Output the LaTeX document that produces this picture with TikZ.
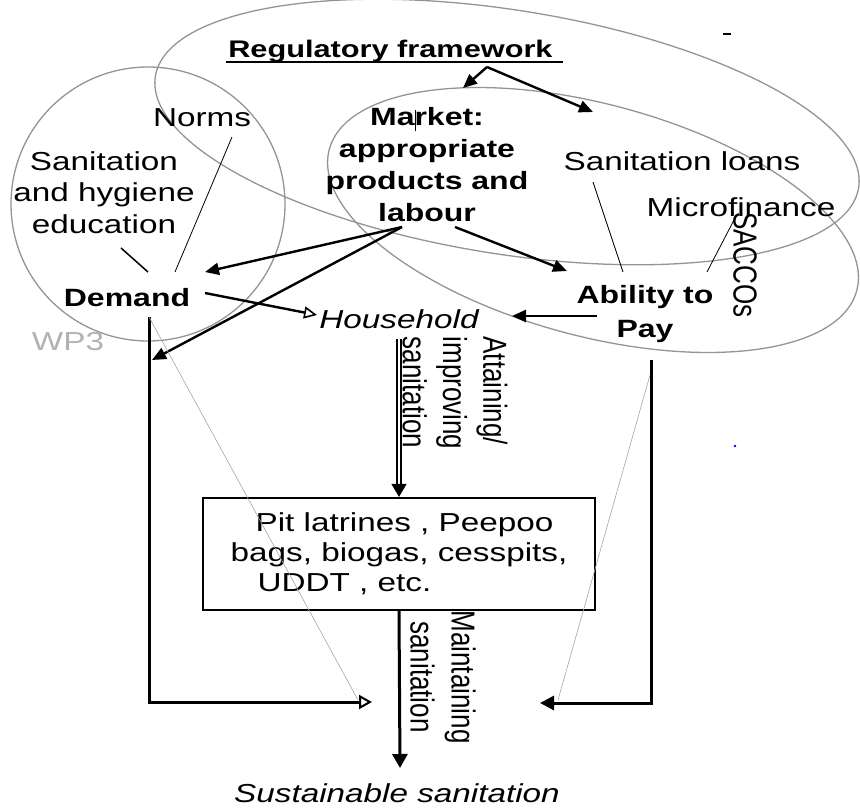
\documentclass[tikz,border=0pt]{standalone}
\usepackage{fontspec}
\setmainfont{Liberation Sans}
\usetikzlibrary{arrows.meta}
\tikzset{
  txt/.style={inner sep=0pt, xscale=1.28, font=\fontsize{26}{31.5}\selectfont},
  bld/.style={txt, font=\fontsize{25}{32}\selectfont\bfseries},
  itl/.style={txt, font=\fontsize{26}{31.5}\selectfont\itshape},
  oval/.style={draw=black!42, line width=1.3pt},
  arr/.style={draw=black, line width=2.4pt, -{Triangle[length=14pt,width=12pt]}},
  arro/.style={draw=black, line width=2.4pt, -{Triangle[open,length=13pt,width=12pt,line width=1.6pt]}},
  thinl/.style={draw=black, line width=0.8pt},
  faint/.style={draw=black!35, line width=0.6pt}
}
\begin{document}
\begin{tikzpicture}[x=1pt,y=-1pt]
\useasboundingbox (0,0) rectangle (860,809);
% ovals
\draw[oval] (148,204) circle[radius=137pt];
\draw[oval, rotate around={-9:(507,132)}] (507,132) ellipse[x radius=356pt, y radius=122pt];
\draw[oval, rotate around={-15:(593,220)}] (593,220) ellipse[x radius=273pt, y radius=116pt];

% texts
\node[txt, font=\fontsize{24}{29}\selectfont\bfseries, anchor=base west] (reg) at (228,57) {Regulatory framework};
\node[txt, anchor=base] (norms) at (202,126) {Norms};
\node[txt, anchor=north, align=center] (edu) at (104,151) {Sanitation\\and hygiene\\education};
\node[bld, anchor=north, align=center] (market) at (427,107) {Market:\\appropriate\\products and\\labour};
\node[txt, anchor=base] (loans) at (682,170) {Sanitation loans};
\node[txt, anchor=base] (micro) at (741,216) {Microfinance};
\node[txt, rotate=-90] (saccos) at (745,265) {SACCOs};
\node[bld, anchor=base] (demand) at (127,306) {Demand};
\node[txt, anchor=base, text=black!30] (wp3) at (68,350) {WP3};
\node[itl, anchor=base] (hh) at (399,328) {Household};
\node[bld, anchor=north, align=center, font=\fontsize{25}{34}\selectfont\bfseries] (pay) at (645,285) {Ability to\\Pay};
\node[txt, rotate=-90, align=left] (attain) at (455,393) {Attaining/\\improving\\sanitation};
\node[txt, draw, line width=2.2pt, minimum width=306.25pt, minimum height=112pt, align=left, font=\fontsize{26}{30}\selectfont] (box) at (399,554) {\hspace*{19.5pt}Pit latrines , Peepoo\\bags, biogas, cesspits,\\\hspace*{21pt}UDDT , etc.};
\node[txt, rotate=-90, align=center, font=\fontsize{26}{32}\selectfont] (maint) at (443,677) {Maintaining\\sanitation};
\node[itl, anchor=base] (sust) at (397,802) {Sustainable sanitation};

% underline of the title
\coordinate (ulA) at (226,62); \coordinate (ulB) at (563,62);
\draw[line width=2.2pt] (ulA) -- (ulB);
% cursor mark and small marks
\coordinate (curA) at (415,110); \coordinate (curB) at (415,131);
\draw[line width=0.9pt] (curA) -- (curB);
\coordinate (dashA) at (723,34); \coordinate (dashB) at (731,34);
\draw[line width=1.5pt] (dashA) -- (dashB);
\fill[blue] (735,446) circle[radius=1.3pt];

% regulatory arrows
\coordinate (apex) at (487,67);
\coordinate (regL) at (463,88);
\coordinate (regR) at (593,112);
\draw[arr] (apex) -- (regL);
\draw[arr] (apex) -- (regR);

% market arrows
\coordinate (lab1) at (402,227);
\coordinate (lab2) at (455,227);
\coordinate (demIn) at (205,272);
\coordinate (colIn) at (152,360);
\coordinate (payIn) at (567,271);
\draw[arr] (lab1) -- (demIn);
\draw[arr] (lab1) -- (colIn);
\draw[arr] (lab2) -- (payIn);

% demand -> household, pay -> household
\coordinate (demOut) at (205,293);
\coordinate (hhL) at (317,315);
\draw[arro] (demOut) -- (hhL);
\coordinate (payOut) at (597,316);
\coordinate (hhR) at (512,316);
\draw[arr] (payOut) -- (hhR);

% household -> box (double), box -> sustainable
\coordinate (hhBot) at (399,339);
\draw[draw=black, double=white, double distance=2.6pt, line width=1.3pt, -{Triangle[length=13pt,width=15pt]}] (hhBot) -- (box.north);
\coordinate (sustTop) at (400,768);
\draw[draw=black, line width=3pt, -{Triangle[length=14pt,width=15pt]}] (box.south) -- (sustTop);

% side columns
\coordinate (dBot) at (149,317);
\coordinate (dCorner) at (149,702);
\coordinate (dTip) at (372,702);
\draw[draw=black, line width=3pt, -{Triangle[open,length=13pt,width=14pt,line width=2pt]}] (dBot) -- (dCorner) -- (dTip);
\coordinate (pBot) at (651,360);
\coordinate (pCorner) at (651,703);
\coordinate (pTip) at (540,703);
\draw[draw=black, line width=3pt, -{Triangle[length=14pt,width=14pt]}] (pBot) -- (pCorner) -- (pTip);

% faint diagonals
\coordinate (fd1) at (358,700);
\draw[faint] (dBot) -- (fd1);
\coordinate (fp0) at (650,375);
\coordinate (fp1) at (558,700);
\draw[faint] (fp0) -- (fp1);

% label leader lines
\coordinate (nA) at (232,137); \coordinate (nB) at (175,272);
\draw[thinl] (nA) -- (nB);
\coordinate (eA) at (121,248); \coordinate (eB) at (148,272);
\draw[draw=black, line width=1.5pt] (eA) -- (eB);
\coordinate (lA) at (593,182); \coordinate (lB) at (623,272);
\draw[thinl] (lA) -- (lB);
\coordinate (mA) at (735,218); \coordinate (mB) at (707,272);
\draw[thinl] (mA) -- (mB);
\end{tikzpicture}
\end{document}
